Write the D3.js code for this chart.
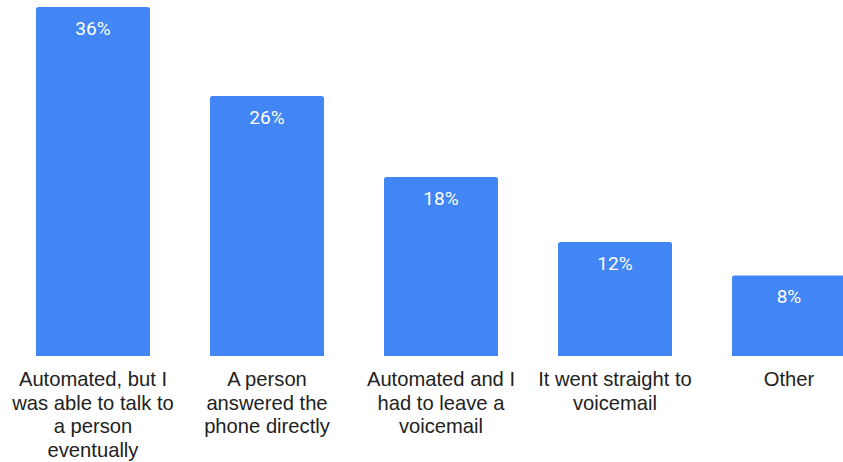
<!DOCTYPE html>
<html>
<head>
<meta charset="utf-8">
<script src="https://cdn.jsdelivr.net/npm/d3@7"></script>
<style>
  html, body { margin: 0; padding: 0; background: #fff; overflow: hidden; }
  svg { display: block; }
</style>
</head>
<body>
<svg id="chart" width="843" height="462"></svg>
<script>
const categories = [
  ["Automated, but I", "was able to talk to", "a person", "eventually"],
  ["A person", "answered the", "phone directly"],
  ["Automated and I", "had to leave a", "voicemail"],
  ["It went straight to", "voicemail"],
  ["Other"]
];
const values = [35.5, 26.45, 18.2, 11.6, 8.2];
const valueLabels = ["36%", "26%", "18%", "12%", "8%"];

const svg = d3.select("#chart");
const ids = categories.map((c, i) => i);

const x = d3.scaleBand()
  .domain(ids)
  .range([6, 876])
  .paddingInner(0.345)
  .paddingOuter(0.1725);

const y = d3.scaleLinear()
  .domain([0, 35.5])
  .range([356, 7]);

const r = 2.5;
function barPath(i) {
  const x0 = x(i), x1 = x(i) + x.bandwidth();
  const y0 = y(0), y1 = y(values[i]);
  return `M${x0},${y0} L${x0},${y1 + r} Q${x0},${y1} ${x0 + r},${y1} L${x1 - r},${y1} Q${x1},${y1} ${x1},${y1 + r} L${x1},${y0} Z`;
}

svg.append("g").selectAll("path")
  .data(ids)
  .join("path")
  .attr("d", d => barPath(d))
  .attr("fill", "#4285F4");

svg.append("g").selectAll("text")
  .data(ids)
  .join("text")
  .attr("x", d => x(d) + x.bandwidth() / 2)
  .attr("y", d => y(values[d]) + 28)
  .attr("text-anchor", "middle")
  .attr("fill", "#ffffff")
  .attr("font-family", "Roboto, sans-serif")
  .attr("font-size", "19px")
  .text(d => valueLabels[d]);

const labelG = svg.append("g");
ids.forEach(i => {
  const t = labelG.append("text")
    .attr("x", x(i) + x.bandwidth() / 2)
    .attr("y", 386)
    .attr("text-anchor", "middle")
    .attr("fill", "#222222")
    .attr("font-family", "'Liberation Sans', Arial, sans-serif")
    .attr("font-size", "20.2px");
  categories[i].forEach((line, j) => {
    t.append("tspan")
      .attr("x", x(i) + x.bandwidth() / 2)
      .attr("dy", j === 0 ? 0 : 23.5)
      .text(line);
  });
});
</script>
</body>
</html>
